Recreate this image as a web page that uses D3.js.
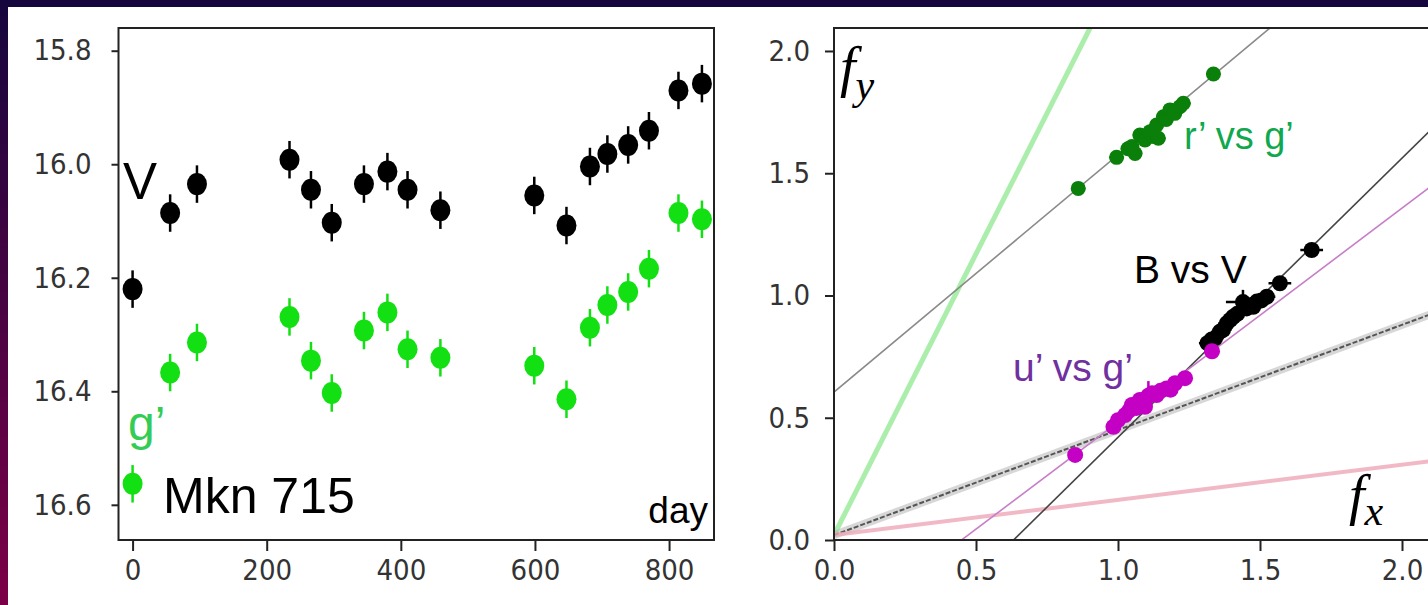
<!DOCTYPE html>
<html>
<head>
<meta charset="utf-8">
<script src="https://cdn.jsdelivr.net/npm/d3@7"></script>
<style>
  body { margin: 0; background: #fff; }
  svg { display: block; }
</style>
</head>
<body>
<div id="chart"></div>
<script>
// light curve of Mkn 715 (left) : day vs magnitude
var days = [0, 56, 96, 234, 266, 297, 345, 380, 410, 459, 599, 647, 682, 708, 739, 770, 814, 849]
var vMag = [16.220, 16.086, 16.035, 15.992, 16.045, 16.103, 16.035, 16.013, 16.045, 16.081,
            16.055, 16.108, 16.004, 15.982, 15.966, 15.941, 15.870, 15.858]
var gMag = [16.563, 16.367, 16.314, 16.269, 16.346, 16.403, 16.293, 16.261, 16.326, 16.341,
            16.355, 16.414, 16.288, 16.248, 16.225, 16.184, 16.086, 16.097]
var magErr = 0.033
var magTicks = [15.8, 16.0, 16.2, 16.4, 16.6]
var dayTicks = [0, 200, 400, 600, 800]

// flux-flux diagram (right)
var rgX = [0.860, 0.995, 1.035, 1.049, 1.060, 1.077, 1.095, 1.113, 1.125, 1.136, 1.142, 1.160, 1.170, 1.183, 1.200, 1.218, 1.230, 1.336]
var rgY = [1.438, 1.565, 1.600, 1.609, 1.581, 1.656, 1.636, 1.670, 1.650, 1.697, 1.643, 1.731, 1.720, 1.759, 1.745, 1.772, 1.786, 1.906]
var bvX = [1.315, 1.330, 1.342, 1.359, 1.370, 1.383, 1.395, 1.406, 1.420, 1.440, 1.453, 1.465, 1.476, 1.489, 1.505, 1.524, 1.570, 1.682]
var bvY = [0.805, 0.820, 0.825, 0.852, 0.860, 0.886, 0.900, 0.913, 0.925, 0.973, 0.947, 0.960, 0.954, 0.975, 0.980, 0.995, 1.050, 1.186]
var bvErrX = [0.03, 0.03, 0.03, 0.03, 0.03, 0.03, 0.03, 0.03, 0.03, 0.06, 0.03, 0.03, 0.03, 0.03, 0.03, 0.03, 0.04, 0.04]
var bvErrY = [0.02, 0.02, 0.02, 0.02, 0.02, 0.02, 0.02, 0.02, 0.02, 0.05, 0.02, 0.02, 0.02, 0.02, 0.02, 0.02, 0.025, 0.025]
var ugX = [0.849, 0.984, 1.000, 1.025, 1.040, 1.049, 1.065, 1.077, 1.095, 1.107, 1.120, 1.136, 1.150, 1.171, 1.185, 1.201, 1.236, 1.331]
var ugY = [0.348, 0.463, 0.490, 0.511, 0.530, 0.552, 0.540, 0.573, 0.545, 0.590, 0.600, 0.593, 0.610, 0.620, 0.615, 0.641, 0.662, 0.772]
var ugErrY = [0.02, 0.02, 0.02, 0.02, 0.02, 0.02, 0.02, 0.02, 0.02, 0.06, 0.02, 0.02, 0.02, 0.02, 0.02, 0.02, 0.02, 0.02]
var fluxTicks = [0.0, 0.5, 1.0, 1.5, 2.0]

// straight lines fy = a + b*fx : green, r' fit, B fit, u' fit, gray, pink
var fitA = [0.02, 0.605, -0.722, -0.393, 0.02, 0.02]
var fitB = [2.30, 0.970, 1.142, 0.875, 0.430, 0.144]

var width = 1428
var height = 605

var svg = d3.select("#chart")
  .append("svg")
    .attr("width", width)
    .attr("height", height)

var defs = svg.append("defs")
var grad = defs.append("linearGradient")
    .attr("id", "edge")
    .attr("x1", 0).attr("y1", 0).attr("x2", 0).attr("y2", 1)
grad.append("stop").attr("offset", "0%").attr("stop-color", "#15063d")
grad.append("stop").attr("offset", "100%").attr("stop-color", "#7c0047")

// slide frame
svg.append("rect").attr("width", width).attr("height", height).attr("fill", "#fff")
svg.append("rect").attr("width", width).attr("height", 7).attr("fill", "#15063d")
svg.append("rect").attr("width", 8).attr("height", height).attr("fill", "url(#edge)")

var tickFont = "'DejaVu Sans Condensed', 'DejaVu Sans', sans-serif"
var textFont = "'Liberation Sans', Arial, sans-serif"

function styleAxis(g) {
  g.select(".domain").remove()
  g.selectAll(".tick line").attr("stroke", "#222").attr("stroke-width", 2)
  g.selectAll(".tick text")
    .attr("fill", "#333")
    .style("font-family", tickFont)
    .style("font-size", "29px")
}

// ---------------- left panel ----------------
var x1 = d3.scaleLinear().domain([-21, 867]).range([118.5, 714])
var y1 = d3.scaleLinear().domain([15.76, 16.662]).range([28, 540])

svg.append("g")
  .attr("transform", "translate(0,540)")
  .call(d3.axisBottom(x1).tickValues(dayTicks).tickSize(11).tickPadding(8).tickSizeOuter(0))
  .call(styleAxis)

svg.append("g")
  .attr("transform", "translate(118.5,0)")
  .call(d3.axisLeft(y1).tickValues(magTicks).tickFormat(d3.format(".1f")).tickSize(7).tickPadding(20).tickSizeOuter(0))
  .call(styleAxis)

var lc = svg.append("g")

function lightCurve(mags, color) {
  lc.append("g").selectAll("line")
    .data(days)
    .enter()
    .append("line")
      .attr("x1", function(d){ return x1(d) })
      .attr("x2", function(d){ return x1(d) })
      .attr("y1", function(d, i){ return y1(mags[i] - magErr) })
      .attr("y2", function(d, i){ return y1(mags[i] + magErr) })
      .attr("stroke", color)
      .attr("stroke-width", 2.5)
  lc.append("g").selectAll("ellipse")
    .data(days)
    .enter()
    .append("ellipse")
      .attr("cx", function(d){ return x1(d) })
      .attr("cy", function(d, i){ return y1(mags[i]) })
      .attr("rx", 10)
      .attr("ry", 11)
      .attr("fill", color)
}
lightCurve(vMag, "#000")
lightCurve(gMag, "#12e012")

svg.append("rect")
  .attr("x", 118.5).attr("y", 28)
  .attr("width", 714 - 118.5).attr("height", 540 - 28)
  .attr("fill", "none").attr("stroke", "#222").attr("stroke-width", 2)

svg.append("text").attr("x", 123).attr("y", 199).text("V")
  .style("font-family", textFont).style("font-size", "51px").attr("fill", "#000")
svg.append("text").attr("x", 128).attr("y", 440).text("g’")
  .style("font-family", textFont).style("font-size", "48px").attr("fill", "#33cc55")
svg.append("text").attr("x", 163).attr("y", 513).text("Mkn 715")
  .style("font-family", textFont).style("font-size", "50px").attr("fill", "#000")
svg.append("text").attr("x", 708).attr("y", 523).attr("text-anchor", "end").text("day")
  .style("font-family", textFont).style("font-size", "37px").attr("fill", "#000")

// ---------------- right panel ----------------
var x2 = d3.scaleLinear().domain([0, 2.1]).range([834, 1430.4])
var y2 = d3.scaleLinear().domain([0, 2.094]).range([540, 28])

svg.append("g")
  .attr("transform", "translate(0,540)")
  .call(d3.axisBottom(x2).tickValues(fluxTicks).tickFormat(d3.format(".1f")).tickSize(11).tickPadding(8).tickSizeOuter(0))
  .call(styleAxis)

svg.append("g")
  .attr("transform", "translate(834,0)")
  .call(d3.axisLeft(y2).tickValues(fluxTicks).tickFormat(d3.format(".1f")).tickSize(9).tickPadding(15).tickSizeOuter(0))
  .call(styleAxis)

defs.append("clipPath").attr("id", "clip2")
  .append("rect").attr("x", 834).attr("y", 28).attr("width", 600).attr("height", 512)

var ff = svg.append("g").attr("clip-path", "url(#clip2)")

function fitLine(i) {
  return ff.append("line")
    .attr("x1", x2(0)).attr("y1", y2(fitA[i]))
    .attr("x2", x2(2.2)).attr("y2", y2(fitA[i] + fitB[i] * 2.2))
}
// wide translucent bands first
fitLine(0).attr("stroke", "#8fe88f").attr("stroke-width", 5).attr("stroke-opacity", 0.75)
fitLine(4).attr("stroke", "#b0b0b0").attr("stroke-width", 8).attr("stroke-opacity", 0.5)
fitLine(4).attr("stroke", "#555").attr("stroke-width", 2).attr("stroke-dasharray", "5,2")
fitLine(5).attr("stroke", "#eea8b8").attr("stroke-width", 4).attr("stroke-opacity", 0.8)
fitLine(1).attr("stroke", "#8a8a8a").attr("stroke-width", 1.6)
fitLine(2).attr("stroke", "#444").attr("stroke-width", 1.6)
fitLine(3).attr("stroke", "#c77dc7").attr("stroke-width", 1.6)

function fluxPoints(xs, ys, ex, ey, color, r) {
  var g = ff.append("g")
  g.selectAll(".ex")
    .data(xs)
    .enter()
    .append("line")
      .attr("x1", function(d, i){ return x2(d - ex[i]) })
      .attr("x2", function(d, i){ return x2(d + ex[i]) })
      .attr("y1", function(d, i){ return y2(ys[i]) })
      .attr("y2", function(d, i){ return y2(ys[i]) })
      .attr("stroke", color).attr("stroke-width", 2.5)
  g.selectAll(".ey")
    .data(xs)
    .enter()
    .append("line")
      .attr("x1", function(d){ return x2(d) })
      .attr("x2", function(d){ return x2(d) })
      .attr("y1", function(d, i){ return y2(ys[i] - ey[i]) })
      .attr("y2", function(d, i){ return y2(ys[i] + ey[i]) })
      .attr("stroke", color).attr("stroke-width", 2.5)
  g.selectAll("circle")
    .data(xs)
    .enter()
    .append("circle")
      .attr("cx", function(d){ return x2(d) })
      .attr("cy", function(d, i){ return y2(ys[i]) })
      .attr("r", r)
      .attr("fill", color)
}
var smallErr = rgX.map(function(){ return 0.025 })
fluxPoints(rgX, rgY, smallErr, smallErr, "#0a7f0a", 7.5)
fluxPoints(bvX, bvY, bvErrX, bvErrY, "#000", 8)
fluxPoints(ugX, ugY, smallErr, ugErrY, "#c400c4", 8)

// frame (right spine falls just outside the window)
svg.append("rect")
  .attr("x", 834).attr("y", 28)
  .attr("width", 1430.4 - 834).attr("height", 540 - 28)
  .attr("fill", "none").attr("stroke", "#222").attr("stroke-width", 2)

// labels
var fy = svg.append("text").attr("x", 840).attr("y", 86)
  .style("font-family", "'Liberation Serif', 'DejaVu Serif', serif")
  .style("font-style", "italic").attr("fill", "#000")
fy.append("tspan").style("font-size", "56px").text("f")
fy.append("tspan").attr("y", 99).style("font-size", "42px").text("y")

var fx = svg.append("text").attr("x", 1349).attr("y", 514)
  .style("font-family", "'Liberation Serif', 'DejaVu Serif', serif")
  .style("font-style", "italic").attr("fill", "#000")
fx.append("tspan").style("font-size", "56px").text("f")
fx.append("tspan").attr("y", 525).style("font-size", "42px").text("x")

svg.append("text").attr("x", 1184).attr("y", 149).text("r’ vs g’")
  .style("font-family", textFont).style("font-size", "38px").attr("fill", "#10a84e")
svg.append("text").attr("x", 1134).attr("y", 283).text("B vs V")
  .style("font-family", textFont).style("font-size", "39px").attr("fill", "#000")
svg.append("text").attr("x", 1013).attr("y", 381).text("u’ vs g’")
  .style("font-family", textFont).style("font-size", "39px").attr("fill", "#7030a0")
</script>
</body>
</html>
